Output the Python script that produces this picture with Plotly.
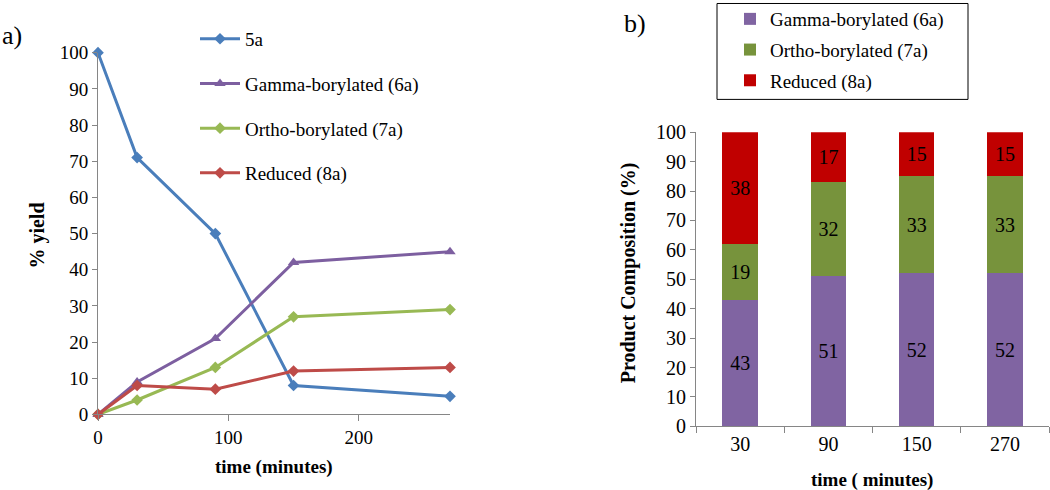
import plotly.graph_objects as go

# ---- Data: panel a) ----
time_min = [0, 30, 90, 150, 270]
yield_5a = [100, 71, 50, 8, 5]
yield_gamma = [0, 9, 21, 42, 45]
yield_ortho = [0, 4, 13, 27, 29]
yield_reduced = [0, 8, 7, 12, 13]

# ---- Data: panel b) ----
bar_times = ["30", "90", "150", "270"]
comp_gamma = [43, 51, 52, 52]
comp_ortho = [19, 32, 33, 33]
comp_reduced = [38, 17, 15, 15]

W, H = 1050, 490
def px(x):
    return x / W
def py(y):
    return 1 - y / H

FONT = "Liberation Serif"
AXC = "#868686"

fig = go.Figure()

line_specs = [
    ("5a", yield_5a, "#4A7EBB", "diamond", 9, "g1"),
    ("Gamma-borylated (6a)", yield_gamma, "#7D5FA0", "triangle-up", 10, "g2"),
    ("Ortho-borylated (7a)", yield_ortho, "#98B954", "diamond", 9, "g3"),
    ("Reduced (8a)", yield_reduced, "#BE4B48", "diamond", 9, "g4"),
]
for name, vals, col, sym, size, grp in line_specs:
    fig.add_trace(go.Scatter(
        x=time_min, y=vals, name=name, mode="lines+markers",
        line=dict(color=col, width=3),
        marker=dict(color=col, symbol=sym, size=size),
        xaxis="x", yaxis="y", legend="legend", legendgroup=grp,
        cliponaxis=False,
    ))

bar_specs = [
    ("Gamma-borylated (6a)", comp_gamma, "#8064A2", "b1"),
    ("Ortho-borylated (7a)", comp_ortho, "#77933C", "b2"),
    ("Reduced (8a)", comp_reduced, "#C00000", "b3"),
]
for name, vals, col, grp in bar_specs:
    fig.add_trace(go.Bar(
        x=bar_times, y=vals, name=name,
        marker=dict(color=col, line=dict(width=0)),
        text=vals, texttemplate="%{text}", textposition="inside",
        insidetextanchor="middle", textangle=0,
        textfont=dict(family=FONT, size=20, color="black"),
        xaxis="x2", yaxis="y2", legend="legend2", legendgroup=grp,
    ))

tf19 = dict(family=FONT, size=19, color="black")
tf20 = dict(family=FONT, size=20, color="black")

fig.update_layout(
    width=W, height=H,
    margin=dict(l=0, r=0, t=0, b=0),
    paper_bgcolor="white", plot_bgcolor="white",
    font=dict(family=FONT, size=19, color="black"),
    barmode="stack", bargap=0.6,
    xaxis=dict(
        domain=[px(98), px(450)], range=[0, 270],
        tickvals=[0, 100, 200], ticks="outside", ticklen=6, tickcolor=AXC,
        showline=True, linecolor=AXC, linewidth=1,
        showgrid=False, zeroline=False, automargin=False,
        tickfont=tf19, anchor="y",
    ),
    yaxis=dict(
        domain=[py(414), py(50)], range=[0, 100], dtick=10,
        ticks="outside", ticklen=5, tickcolor=AXC,
        showline=True, linecolor=AXC, linewidth=1,
        showgrid=False, zeroline=False, automargin=False,
        tickfont=tf19, anchor="x",
    ),
    xaxis2=dict(
        domain=[px(696), px(1049)], type="category",
        tickson="boundaries", ticks="outside", ticklen=6, tickcolor=AXC,
        showline=True, linecolor=AXC, linewidth=1,
        showgrid=False, zeroline=False, automargin=False,
        tickfont=tf20, anchor="y2",
    ),
    yaxis2=dict(
        domain=[py(426), py(130)], range=[0, 100], dtick=10,
        ticks="outside", ticklen=5, tickcolor=AXC,
        showline=True, linecolor=AXC, linewidth=1,
        showgrid=False, zeroline=False, automargin=False,
        tickfont=tf20, anchor="x2",
    ),
    legend=dict(
        x=px(195), y=py(17), xanchor="left", yanchor="top",
        bgcolor="rgba(0,0,0,0)", borderwidth=0,
        font=tf19,
        traceorder="grouped", tracegroupgap=17, itemwidth=40,
    ),
    legend2=dict(
        x=px(730), y=py(-3), xanchor="left", yanchor="top",
        bgcolor="rgba(0,0,0,0)", borderwidth=0,
        font=tf19,
        traceorder="grouped", tracegroupgap=3,
    ),
    shapes=[
        dict(type="rect", xref="paper", yref="paper",
             x0=px(717), x1=px(968), y0=py(97), y1=py(0.5),
             line=dict(color="black", width=1), fillcolor="rgba(0,0,0,0)"),
    ],
    annotations=[
        dict(text="a)", x=px(0), y=py(33), xref="paper", yref="paper",
             xanchor="left", yanchor="middle", showarrow=False,
             font=dict(family=FONT, size=26)),
        dict(text="b)", x=px(622), y=py(21), xref="paper", yref="paper",
             xanchor="left", yanchor="middle", showarrow=False,
             font=dict(family=FONT, size=26)),
        dict(text="<b>% yield</b>", x=px(38), y=py(234), xref="paper", yref="paper",
             xanchor="center", yanchor="middle", showarrow=False, textangle=-90,
             font=dict(family=FONT, size=20)),
        dict(text="<b>time (minutes)</b>", x=px(274), y=py(467), xref="paper", yref="paper",
             xanchor="center", yanchor="middle", showarrow=False,
             font=dict(family=FONT, size=19)),
        dict(text="<b>Product Composition (%)</b>", x=px(628), y=py(272),
             xref="paper", yref="paper",
             xanchor="center", yanchor="middle", showarrow=False, textangle=-90,
             font=dict(family=FONT, size=20)),
        dict(text="<b>time ( minutes)</b>", x=px(872), y=py(480), xref="paper", yref="paper",
             xanchor="center", yanchor="middle", showarrow=False,
             font=dict(family=FONT, size=19)),
    ],
)

fig.write_html(
    "out.html",
    config={"displayModeBar": False},
    post_script="document.body.style.margin='0';document.body.style.padding='0';",
)
